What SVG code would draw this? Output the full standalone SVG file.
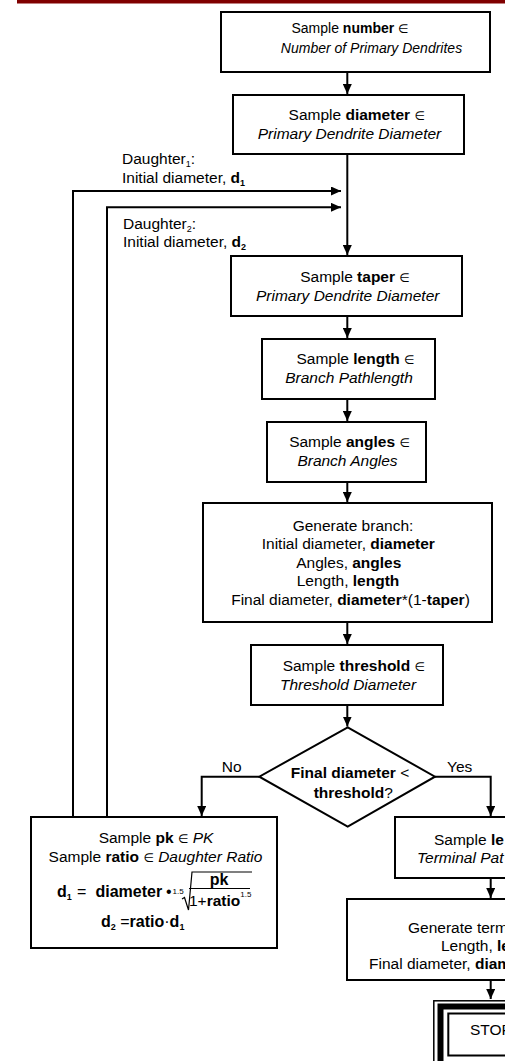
<svg xmlns="http://www.w3.org/2000/svg" width="505" height="1061" viewBox="0 0 505 1061">
<style>
.box{fill:#fff;stroke:#000;stroke-width:2}
.ln{fill:none;stroke:#000;stroke-width:2}
text{font-family:"Liberation Sans",Arial,"DejaVu Sans",sans-serif;font-size:15.5px;fill:#000}
.c{text-anchor:middle}
.b{font-weight:bold}
.i{font-style:italic}
.s{font-size:9px}
.t{font-size:8px}
.e{font-size:12px}
.f{font-size:16px}
.n1{font-size:14px}
</style>
<defs>
<marker id="ah" markerWidth="10" markerHeight="9" refX="10" refY="4.5" orient="auto" markerUnits="userSpaceOnUse"><path d="M0,0 L10,4.5 L0,9 z" fill="#000"/></marker>
</defs>
<rect x="17" y="0" width="488" height="3.5" fill="#800000"/>

<g id="connectors">
<path class="ln" d="M347.3,72 V94" marker-end="url(#ah)"/>
<path class="ln" d="M347.3,154 V255" marker-end="url(#ah)"/>
<path class="ln" d="M73,817 V191 H341" marker-end="url(#ah)"/>
<path class="ln" d="M107,817 V207.3 H341" marker-end="url(#ah)"/>
<path class="ln" d="M347.3,316 V338" marker-end="url(#ah)"/>
<path class="ln" d="M347.3,399 V421" marker-end="url(#ah)"/>
<path class="ln" d="M347.3,482 V502" marker-end="url(#ah)"/>
<path class="ln" d="M347.3,622 V644" marker-end="url(#ah)"/>
<path class="ln" d="M347.3,705 V726.5" marker-end="url(#ah)"/>
<path class="ln" d="M259.3,776.7 H201.7 V816" marker-end="url(#ah)"/>
<path class="ln" d="M435,776.7 H490.7 V816" marker-end="url(#ah)"/>
<path class="ln" d="M490.7,878 V898" marker-end="url(#ah)"/>
<path class="ln" d="M490.7,980 V999" marker-end="url(#ah)"/>
<text x="122" y="164">Daughter<tspan class="s" dy="3">1</tspan><tspan dy="-3">:</tspan></text>
<text x="122" y="182.5">Initial diameter, <tspan class="b">d</tspan><tspan class="s b" dy="3">1</tspan></text>
<text x="123" y="229">Daughter<tspan class="s" dy="3">2</tspan><tspan dy="-3">:</tspan></text>
<text x="123" y="246.7">Initial diameter, <tspan class="b">d</tspan><tspan class="s b" dy="3">2</tspan></text>
<text class="c" x="231.7" y="771.7">No</text>
<text class="c" x="459.7" y="771.7">Yes</text>
</g>

<g id="n1">
<rect class="box" x="221" y="12" width="269" height="60"/>
<text class="c n1" x="350" y="33">Sample <tspan class="b">number</tspan> <tspan class="e">∈</tspan></text>
<text class="c i n1" x="371.5" y="52.5">Number of Primary Dendrites</text>
</g>

<g id="n2">
<rect class="box" x="233" y="95" width="231" height="59"/>
<text class="c" x="356.7" y="120">Sample <tspan class="b">diameter</tspan>  <tspan class="e">∈</tspan></text>
<text class="c i" x="349.5" y="138.5">Primary Dendrite Diameter</text>
</g>

<g id="n3">
<rect class="box" x="231" y="256" width="231" height="60"/>
<text class="c" x="355" y="281.5">Sample <tspan class="b">taper</tspan> <tspan class="e">∈</tspan></text>
<text class="c i" x="347.7" y="300.5">Primary Dendrite Diameter</text>
</g>

<g id="n4">
<rect class="box" x="262" y="339" width="173" height="60"/>
<text class="c" x="355.5" y="364">Sample <tspan class="b">length</tspan> <tspan class="e">∈</tspan></text>
<text class="c i" x="349" y="382.7">Branch Pathlength</text>
</g>

<g id="n5">
<rect class="box" x="267" y="422" width="159" height="60"/>
<text class="c" x="349.5" y="447">Sample <tspan class="b">angles</tspan> <tspan class="e">∈</tspan></text>
<text class="c i" x="347.5" y="466">Branch Angles</text>
</g>

<g id="n6">
<rect class="box" x="203" y="503" width="289" height="119"/>
<text class="c" x="353" y="530.7">Generate branch:</text>
<text class="c" x="348.3" y="549.3">Initial diameter, <tspan class="b">diameter</tspan></text>
<text class="c" x="348.8" y="567.5">Angles, <tspan class="b">angles</tspan></text>
<text class="c" x="348" y="586">Length, <tspan class="b">length</tspan></text>
<text class="c" x="350.5" y="605">Final diameter, <tspan class="b">diameter</tspan>*(1-<tspan class="b">taper</tspan>)</text>
</g>

<g id="n7">
<rect class="box" x="251" y="645" width="192" height="60"/>
<text class="c" x="353.8" y="670.5">Sample <tspan class="b">threshold</tspan> <tspan class="e">∈</tspan></text>
<text class="c i" x="348" y="690">Threshold Diameter</text>
</g>

<g id="n8">
<polygon class="box" points="347.7,727.3 435,776.7 347.7,826.7 259.3,776.7"/>
<text class="c" x="350" y="778.3"><tspan class="b">Final diameter</tspan> &lt;</text>
<text class="c" x="353.3" y="797.7"><tspan class="b">threshold</tspan>?</text>
</g>

<g id="n9">
<rect class="box" x="31" y="817" width="246" height="131"/>
<text class="c" x="156" y="843">Sample <tspan class="b">pk</tspan>  <tspan class="e">∈</tspan> <tspan class="i">PK</tspan></text>
<text class="c" x="155.5" y="862">Sample <tspan class="b">ratio</tspan> <tspan class="e">∈</tspan> <tspan class="i">Daughter Ratio</tspan></text>
<text class="f b" x="57" y="897">d<tspan class="s" dy="3">1</tspan></text>
<text class="f" x="77" y="897">=</text>
<text class="f b" x="95.5" y="897">diameter</text>
<text class="f" x="166" y="897">•</text>
<text class="t" x="172.5" y="894">1.5</text>
<path d="M182,899 L184.5,897.5 L188.5,910 L192,872 L252,872" fill="none" stroke="#000" stroke-width="1.2"/>
<text class="c b f" x="219" y="884.5">pk</text>
<line x1="189" y1="888.5" x2="250" y2="888.5" stroke="#000" stroke-width="1.2"/>
<text x="189" y="906">1+<tspan class="b">ratio</tspan><tspan class="t" dy="-9">1.5</tspan></text>
<text class="f b" x="101" y="927">d<tspan class="s" dy="3">2</tspan><tspan dy="-3" font-weight="normal"> =</tspan>ratio<tspan font-weight="normal">·</tspan>d<tspan class="s" dy="3">1</tspan></text>
</g>

<g id="n10">
<rect class="box" x="395" y="817" width="192" height="61"/>
<text x="434" y="844.5">Sample <tspan class="b">le</tspan></text>
<text class="i" x="417" y="863">Terminal Pat</text>
</g>

<g id="n11">
<rect class="box" x="347" y="899" width="288" height="81"/>
<text x="408" y="933">Generate termi</text>
<text x="441" y="951">Length, <tspan class="b">le</tspan></text>
<text x="369" y="969">Final diameter, <tspan class="b">diam</tspan></text>
</g>

<g id="n12">
<rect x="433.8" y="1000.8" width="200" height="100" fill="#fff" stroke="#000" stroke-width="1.5"/>
<rect x="440.5" y="1006.5" width="200" height="100" fill="none" stroke="#000" stroke-width="6"/>
<rect x="448.3" y="1013.5" width="200" height="42" fill="none" stroke="#000" stroke-width="2"/>
<text x="470" y="1035">STOP</text>
</g>
</svg>
